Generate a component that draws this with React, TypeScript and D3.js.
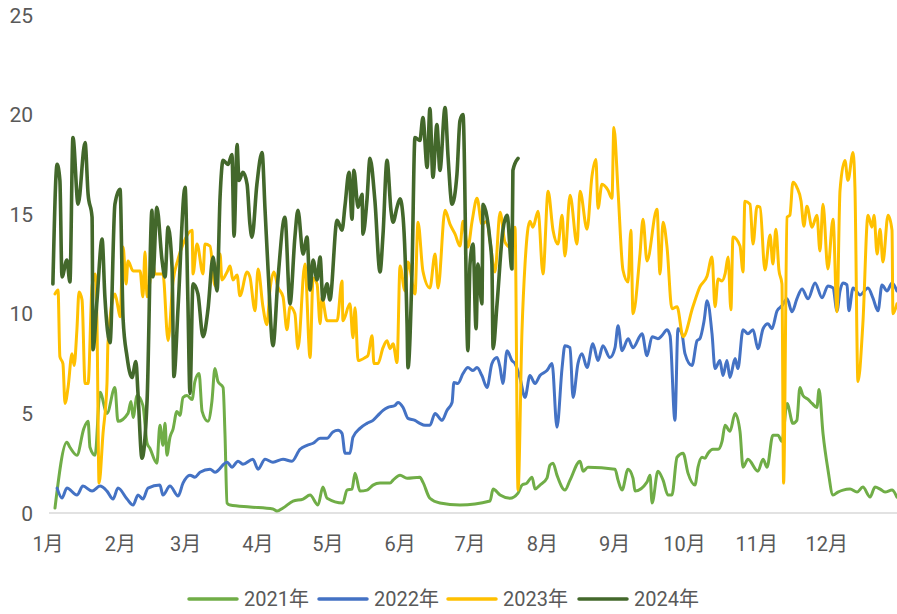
import React from "react";
import * as d3 from "d3";

// Day-of-year positions and values
const days2021 = [3.0,8.1,9.4,12.4,15.4,17.2,18.0,20.2,22.3,25.3,28.7,30.0,34.3,35.6,36.5,38.2,40.7,42.5,43.7,46.7,48.0,49.3,50.2,51.0,52.3,53.6,55.3,56.6,57.9,59.6,61.8,63.0,64.8,66.1,68.6,70.3,71.6,72.9,75.1,75.9,76.8,78.1,86.6,96.5,98.2,100.8,105.1,109.4,112.4,115.8,117.9,119.7,126.5,128.2,130.4,131.7,133.8,136.8,139.4,142.4,146.7,148.0,151.0,154.0,159.5,160.8,163.8,168.1,176.7,189.6,190.9,193.9,198.1,201.6,203.3,205.4,207.6,208.9,211.0,214.0,215.3,216.6,218.3,221.7,223.9,228.2,229.5,231.6,243.2,244.5,246.2,248.8,250.9,251.8,256.9,258.2,259.1,261.6,263.8,265.9,267.6,269.8,272.4,274.5,277.5,278.8,280.5,281.8,283.1,285.2,287.4,289.1,290.4,292.5,294.7,296.8,298.1,300.2,304.5,306.7,308.4,310.9,313.1,314.8,317.0,319.5,321.2,322.5,323.8,326.0,327.7,329.8,330.7,332.4,334.5,336.7,338.8,341.0,344.0,347.0,349.5,352.6,354.7,356.9,359.0,362.0,364.1];
const vals2021 = [0.25,3.55,3.3,2.9,4.25,4.6,3.3,2.9,6.06,5.0,6.3,4.6,5.0,5.6,4.8,5.9,5.4,3.5,3.25,2.5,4.4,3.4,4.5,2.9,3.8,4.2,5.1,4.9,5.8,5.9,5.7,6.6,7.0,5.1,4.6,5.6,7.25,6.6,6.3,4.0,0.5,0.4,0.3,0.2,0.1,0.25,0.6,0.7,0.9,0.4,1.3,0.74,0.5,1.15,1.2,2.0,1.1,1.15,1.4,1.5,1.5,1.65,1.9,1.75,1.8,1.55,0.74,0.5,0.4,0.6,1.2,0.9,0.74,1.0,1.4,1.5,1.8,1.2,1.4,1.75,2.4,2.5,1.9,1.15,1.65,2.6,2.1,2.3,2.2,1.65,1.15,2.2,1.75,1.1,1.55,1.9,0.5,2.1,1.65,0.9,0.9,2.8,3.0,2.0,1.4,2.3,2.8,2.75,3.0,3.2,3.2,3.6,4.4,4.1,5.0,4.1,2.3,2.7,2.1,2.7,2.3,3.9,3.9,3.6,5.5,4.5,4.65,6.3,5.9,5.7,5.5,5.3,6.2,4.0,2.2,0.9,1.05,1.15,1.2,1.05,1.3,0.8,1.3,1.2,1.05,1.15,0.8];

const days2022 = [3.9,6.0,8.1,12.4,15.0,18.9,22.3,25.3,27.9,30.0,33.9,36.5,38.6,40.7,42.9,48.0,49.3,52.3,55.8,57.9,60.9,63.0,65.2,69.5,71.6,76.8,78.9,81.5,83.6,87.9,90.1,93.1,96.5,100.8,104.6,108.1,111.1,113.7,116.7,119.7,122.2,124.4,126.1,127.4,129.5,130.8,133.8,136.8,139.4,141.5,143.7,145.8,148.8,150.1,152.3,154.4,157.4,159.5,161.7,163.8,166.0,169.0,171.1,173.3,174.1,175.8,178.0,180.1,182.3,184.0,186.1,188.3,190.4,192.6,193.9,195.1,196.9,199.0,200.3,202.4,204.6,206.7,208.9,211.0,214.0,216.2,218.3,220.5,221.7,223.9,225.2,227.3,229.0,231.2,233.7,235.9,238.0,241.0,243.2,244.5,246.2,248.8,250.9,254.8,256.9,259.1,261.6,263.3,265.5,266.8,268.9,270.2,271.9,273.2,276.2,278.4,279.6,281.4,282.7,284.8,286.1,288.2,289.5,291.2,292.5,294.7,295.9,298.1,300.2,302.4,304.5,306.7,308.8,310.5,312.7,314.8,317.0,319.1,321.2,323.4,326.0,329.0,332.0,334.5,336.7,338.4,339.7,341.0,342.7,343.5,345.3,348.3,351.7,353.8,356.0,357.7,359.9,362.0,364.1];
const vals2022 = [1.25,0.75,1.25,0.9,1.35,1.1,1.35,1.1,0.7,1.25,0.7,0.4,0.9,0.7,1.25,1.4,0.9,1.35,0.85,1.5,1.9,1.8,2.05,2.2,2.05,2.55,2.3,2.6,2.45,2.7,2.2,2.7,2.55,2.7,2.6,3.2,3.4,3.5,3.75,3.75,4.07,4.15,4.0,3.0,3.0,3.8,4.25,4.5,4.65,4.9,5.15,5.3,5.4,5.55,5.3,4.75,4.65,4.5,4.4,4.4,5.0,4.65,5.15,5.55,6.55,6.5,7.0,7.3,7.15,7.3,6.9,6.3,7.5,7.8,7.3,6.5,8.15,7.65,7.5,6.8,5.8,6.9,6.5,6.9,7.15,7.5,4.3,7.3,8.4,8.3,5.8,7.5,8.0,7.3,8.5,7.65,8.4,7.8,8.3,9.4,8.15,8.75,8.3,9.0,7.9,8.85,8.75,8.9,9.2,8.9,4.65,9.25,9.0,8.0,7.4,8.65,8.75,9.65,10.65,9.0,7.25,7.65,6.9,7.65,6.8,7.75,7.25,9.2,9.0,9.2,8.25,9.25,9.5,9.25,10.15,10.4,10.75,10.1,10.75,11.25,10.75,11.55,10.8,11.4,11.3,10.15,11.15,11.55,11.45,10.15,11.3,10.95,11.3,10.8,10.15,11.45,11.15,11.55,11.15];

const days2023 = [3.0,4.3,5.1,6.4,7.3,8.6,10.3,11.2,12.4,13.3,14.6,15.9,17.2,18.9,20.2,21.0,21.9,23.6,25.3,25.7,28.7,30.0,30.9,32.2,33.5,34.3,36.5,39.5,40.7,41.6,42.5,45.0,45.9,49.3,51.5,53.6,55.8,57.9,61.8,62.2,63.9,66.5,67.3,69.5,71.6,73.8,74.6,76.8,78.1,79.3,81.1,82.3,85.4,86.6,88.8,90.1,92.2,93.9,95.2,96.9,98.6,100.8,102.5,103.8,105.9,107.2,110.2,112.4,113.7,115.4,116.7,117.5,119.7,124.0,126.1,126.5,129.5,130.8,131.7,133.0,136.0,137.2,139.0,139.8,141.5,143.7,145.4,146.7,148.0,149.7,151.0,153.1,154.4,157.4,158.7,160.8,163.8,166.0,167.3,170.3,172.4,174.6,176.7,178.0,180.1,181.9,184.0,186.1,188.3,189.6,191.7,193.9,196.0,198.1,200.3,201.6,203.3,204.6,206.7,208.0,210.2,212.3,214.5,216.6,218.7,220.5,221.7,223.9,226.9,228.2,231.2,233.3,235.0,235.9,237.6,240.2,241.9,242.7,244.5,246.6,248.8,250.0,250.9,253.9,255.2,256.9,261.2,262.5,263.8,265.5,267.6,269.8,272.4,276.6,279.6,282.7,284.8,286.1,287.4,289.1,290.4,291.7,292.9,293.8,296.8,298.1,298.9,301.1,302.4,304.1,305.4,307.5,309.7,310.9,312.2,313.5,314.8,315.5,317.0,318.2,319.5,321.2,323.0,324.2,325.5,327.7,329.8,331.1,332.4,334.5,336.7,338.4,339.7,341.8,343.1,345.3,346.1,347.4,349.5,351.7,353.4,354.3,355.6,356.9,358.1,360.3,362.0,362.4,364.1];
const vals2023 = [11.0,11.2,7.85,7.5,5.5,6.3,8.0,7.4,9.2,11.1,10.7,6.5,6.5,11.4,12.0,9.6,1.5,4.0,6.5,8.5,11.0,10.35,9.85,13.35,11.5,12.65,12.15,12.15,10.85,13.1,10.85,12.5,12.0,12.0,8.65,11.6,12.75,13.5,14.2,12.0,13.5,12.0,13.5,13.4,11.4,13.0,11.7,12.1,12.4,11.7,11.95,10.9,12.1,11.85,10.15,12.25,10.35,9.45,11.2,12.1,11.35,10.85,9.2,10.35,10.0,8.25,12.5,7.8,11.8,11.5,9.5,10.8,9.65,9.65,11.65,9.65,10.5,8.8,10.3,7.65,7.8,7.9,8.9,7.5,7.5,8.3,8.65,8.25,8.5,7.55,12.4,11.15,12.6,11.0,14.6,12.15,11.3,13.0,11.3,15.2,14.5,14.0,13.4,14.65,13.35,14.65,15.8,14.5,14.65,13.65,12.1,15.1,13.6,13.35,14.35,1.15,9.15,12.5,14.65,14.35,15.15,12.0,16.15,14.2,13.5,14.95,12.9,15.95,13.5,16.15,14.25,16.9,17.75,15.3,16.5,16.2,15.8,19.35,16.15,12.2,11.6,14.2,10.0,13.0,14.75,12.65,15.25,12.0,14.6,13.35,10.25,10.35,8.85,10.35,11.35,11.9,12.85,10.35,11.75,11.65,12.0,12.85,10.2,13.85,13.4,12.1,15.65,15.5,13.5,15.4,15.35,12.2,13.95,12.5,14.25,12.2,11.5,1.5,14.85,14.95,16.6,16.35,15.65,14.4,15.4,14.35,14.95,13.15,15.5,12.25,14.75,10.1,16.2,17.7,16.7,18.1,16.35,6.6,9.5,14.95,14.35,14.95,13.0,14.25,12.6,14.95,14.2,10.0,10.5];

const days2024 = [2.1,3.9,5.1,6.0,8.1,9.4,10.7,12.9,15.9,17.2,18.9,19.3,21.0,23.2,24.4,26.6,28.7,30.9,32.2,33.9,36.0,37.7,38.6,40.3,42.5,44.6,45.0,46.7,48.9,50.2,51.5,53.2,54.0,55.8,58.8,60.0,60.9,62.2,64.3,66.5,68.6,70.8,72.5,73.8,75.1,77.2,78.9,79.8,81.1,81.9,83.6,85.4,86.6,87.5,89.6,91.8,93.1,94.4,96.5,98.6,101.6,103.8,105.9,107.2,109.4,111.1,112.4,113.7,115.4,116.7,117.9,119.7,120.9,124.0,126.1,127.4,129.1,130.4,131.2,133.0,134.7,135.1,136.8,138.1,140.2,142.4,143.7,145.4,147.1,148.0,149.7,151.0,152.3,154.0,154.4,156.1,157.4,159.5,160.8,162.6,163.8,165.1,166.8,168.1,170.3,171.6,173.3,175.4,176.7,178.0,180.1,181.0,182.3,183.6,184.4,186.1,186.6,188.3,189.6,190.4,190.9,192.6,195.1,196.9,199.0,199.4,201.6];
const vals2024 = [11.5,17.5,16.7,11.85,12.7,11.6,18.85,15.5,18.6,16.0,14.85,8.2,10.65,13.75,10.85,8.55,15.5,16.25,9.75,7.85,6.8,7.6,6.0,2.75,5.65,15.2,11.85,15.35,12.7,11.85,14.35,12.35,6.85,10.35,16.35,10.65,6.0,11.5,11.0,8.85,10.2,12.85,11.15,15.85,17.7,17.5,18.0,13.9,18.5,16.7,17.1,16.5,14.5,13.85,16.5,18.1,15.2,12.2,8.4,11.7,14.85,10.5,13.85,15.2,13.0,13.85,11.2,12.7,11.7,12.85,10.7,11.5,10.7,14.7,14.2,15.45,17.1,14.75,17.2,15.35,16.0,14.0,15.7,17.8,15.7,12.1,14.0,17.7,15.2,14.6,15.35,15.77,14.85,9.5,7.3,12.0,18.85,18.7,19.85,17.35,20.3,16.85,19.5,17.2,20.35,17.85,15.5,17.0,19.7,20.0,8.15,12.5,13.5,9.25,12.5,10.5,15.5,14.85,13.65,12.5,8.25,10.5,14.2,14.95,12.25,17.2,17.8];

const seriesNames = ["2021年", "2022年", "2023年", "2024年"];
const seriesColors = ["#70AD47", "#4472C4", "#FFC000", "#43682B"];
const yTicks = [0, 5, 10, 15, 20, 25];
const monthLabels = ["1月","2月","3月","4月","5月","6月","7月","8月","9月","10月","11月","12月"];
const monthStartDays = [0, 31, 59, 90, 120, 151, 181, 212, 243, 273, 304, 334];

const W = 897, H = 614;
const FONT = "Roboto, 'Noto Sans CJK SC', sans-serif";
const TEXT_COLOR = "#595959";

export default function App() {
  const x = d3.scaleLinear().domain([0, 365]).range([48, 899]);
  const y = d3.scaleLinear().domain([0, 25]).range([513, 15]);
  const allDays = [days2021, days2022, days2023, days2024];
  const allVals = [vals2021, vals2022, vals2023, vals2024];
  const line = d3
    .line<[number, number]>()
    .x((d) => x(d[0]))
    .y((d) => y(d[1]))
    .curve(d3.curveMonotoneX);

  const legendX = [189, 319, 448, 579];

  return (
    <svg
      width={W}
      height={H}
      style={{ position: "absolute", left: 0, top: 0, display: "block", background: "#fff" }}
    >
      <defs>
        <clipPath id="plot">
          <rect x={40} y={0} width={W - 40} height={530} />
        </clipPath>
      </defs>
      {yTicks.map((t) => (
        <text
          key={t}
          x={33}
          y={y(t)}
          dy="0.36em"
          textAnchor="end"
          fontSize={21}
          fontFamily={FONT}
          fill={TEXT_COLOR}
        >
          {t}
        </text>
      ))}
      <line x1={49} x2={W} y1={y(0)} y2={y(0)} stroke="#d9d9d9" strokeWidth={1.5} />
      {monthLabels.map((m, i) => (
        <text
          key={m}
          x={x(monthStartDays[i])}
          y={551}
          textAnchor="middle"
          fontSize={20}
          fontFamily={FONT}
          fill={TEXT_COLOR}
        >
          {m}
        </text>
      ))}
      <g clipPath="url(#plot)">
        {allDays.map((ds, si) => {
          const pts = ds.map((d, i) => [d, allVals[si][i]] as [number, number]);
          return (
            <path
              key={si}
              d={line(pts) || ""}
              fill="none"
              stroke={seriesColors[si]}
              strokeWidth={si === 3 ? 3.6 : 3}
              strokeLinejoin="round"
              strokeLinecap="round"
            />
          );
        })}
      </g>
      {seriesNames.map((n, i) => (
        <g key={n}>
          <line
            x1={legendX[i]}
            x2={legendX[i] + 48}
            y1={599}
            y2={599}
            stroke={seriesColors[i]}
            strokeWidth={3.5}
            strokeLinecap="round"
          />
          <text
            x={legendX[i] + 55}
            y={599}
            dy="0.36em"
            fontSize={20}
            fontFamily={FONT}
            fill={TEXT_COLOR}
          >
            {n}
          </text>
        </g>
      ))}
    </svg>
  );
}
